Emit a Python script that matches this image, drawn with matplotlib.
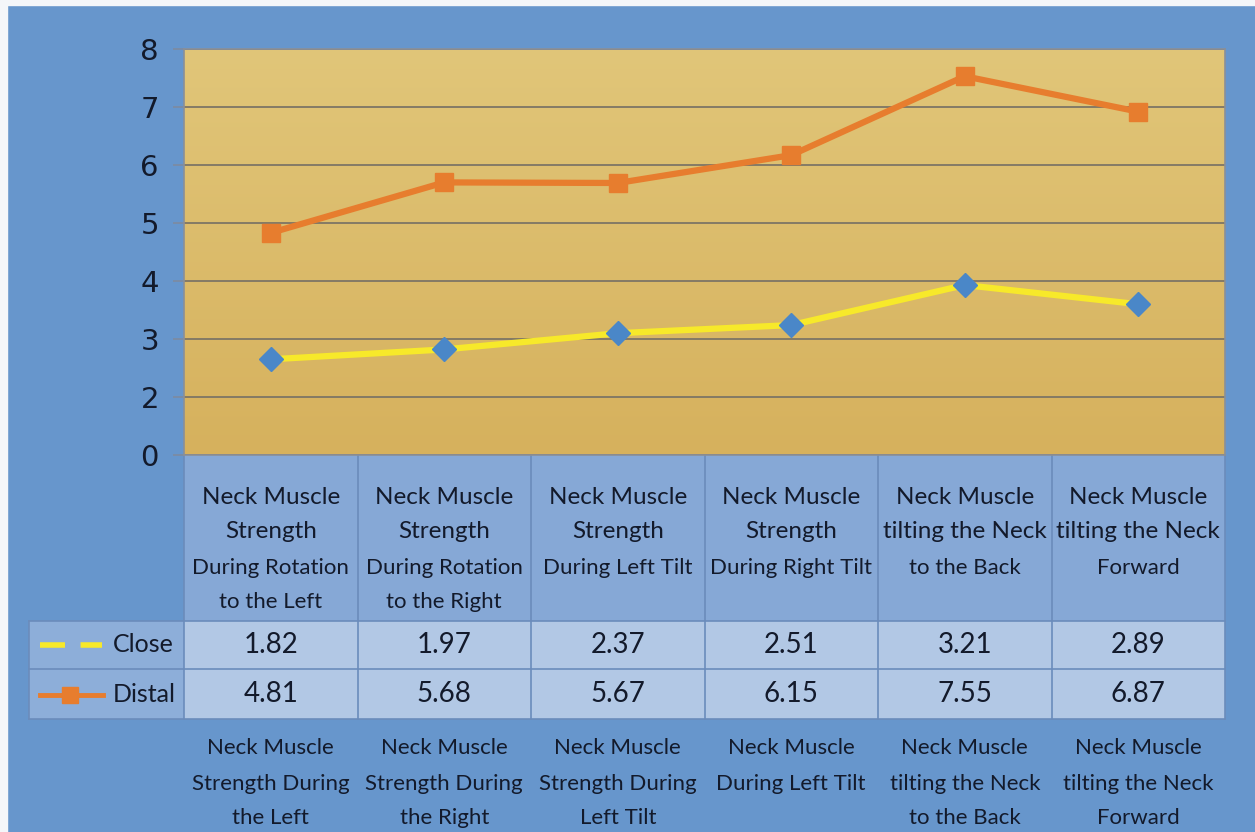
import numpy as np
import matplotlib
matplotlib.use('Agg')
import matplotlib.pyplot as plt
from matplotlib.patches import Rectangle
from matplotlib.lines import Line2D

# --- data ---
categories = [
    ["Neck Muscle", "Strength", "During Rotation", "to the Left"],
    ["Neck Muscle", "Strength", "During Rotation", "to the Right"],
    ["Neck Muscle", "Strength", "During Left Tilt"],
    ["Neck Muscle", "Strength", "During Right Tilt"],
    ["Neck Muscle", "tilting the Neck", "to the Back"],
    ["Neck Muscle", "tilting the Neck", "Forward"],
]
bottom_labels = [
    ["Neck Muscle", "Strength During", "the Left"],
    ["Neck Muscle", "Strength During", "the Right"],
    ["Neck Muscle", "Strength During", "Left Tilt"],
    ["Neck Muscle", "During Left Tilt"],
    ["Neck Muscle", "tilting the Neck", "to the Back"],
    ["Neck Muscle", "tilting the Neck", "Forward"],
]
series_names = ["Close", "Distal"]
close_table = [1.82, 1.97, 2.37, 2.51, 3.21, 2.89]
distal_table = [4.81, 5.68, 5.67, 6.15, 7.55, 6.87]
# positions where the points are actually drawn (axis starts at 1, labelled "0")
close_line = [2.65, 2.82, 3.10, 3.24, 3.93, 3.60]
distal_line = [4.83, 5.70, 5.69, 6.17, 7.53, 6.92]
ytick_pos = [1, 2, 3, 4, 5, 6, 7, 8]
ytick_labels = ["0", "2", "3", "4", "5", "6", "7", "8"]

W, H = 1255, 832
BLUE = '#6796cc'
TXT = '#131a2b'
ORANGE = '#e77d2e'
YELLOW = '#f7e92a'
DIAMOND = '#4a87c8'
FONT = 'Lato'

fig = plt.figure(figsize=(W / 100, H / 100), dpi=100, facecolor=BLUE)

# overlay in pixel coordinates for the data table and frame
canvas = fig.add_axes([0, 0, 1, 1], zorder=0)
canvas.set_xlim(0, W)
canvas.set_ylim(H, 0)
canvas.axis('off')
canvas.add_patch(Rectangle((0, 0), W, 5, color='#f4f6f9', zorder=0))
canvas.add_patch(Rectangle((0, 0), 7, H, color='#f4f6f9', zorder=0))

left, right, top, bot = 184, 1225, 49, 455
colw = (right - left) / len(categories)
hdr_bot = 621
row_h = [(621, 669), (669, 719)]
grid_col = '#6b8cbb'

# header cells
canvas.add_patch(Rectangle((left, bot), right - left, hdr_bot - bot,
                           facecolor='#86a8d6', edgecolor='none', zorder=1))
# data cells
canvas.add_patch(Rectangle((left, 621), right - left, 719 - 621,
                           facecolor='#b2c8e5', edgecolor='none', zorder=1))
# legend cells
canvas.add_patch(Rectangle((29, 621), left - 29, 719 - 621,
                           facecolor='#8daed9', edgecolor='none', zorder=1))

for i in range(len(categories) + 1):
    x = left + i * colw
    canvas.plot([x, x], [bot, 719], color=grid_col, lw=1.2, zorder=2)
for y in [621, 669, 719]:
    canvas.plot([29, right], [y, y], color=grid_col, lw=1.2, zorder=2)
canvas.plot([29, 29], [621, 719], color=grid_col, lw=1.2, zorder=2)

header_y = [497, 532, 568, 602]
bottom_y = [748, 784, 818]
for i, lines in enumerate(categories):
    cx = left + (i + 0.5) * colw
    for j, line in enumerate(lines):
        size = 17.5 if j < 2 else 16
        canvas.text(cx, header_y[j], line, ha='center', va='center',
                    fontsize=size, color=TXT, family=FONT, zorder=3)
    for j, line in enumerate(bottom_labels[i]):
        canvas.text(cx, bottom_y[j], line, ha='center', va='center',
                    fontsize=16, color=TXT, family=FONT, zorder=3)
    for r, vals in enumerate([close_table, distal_table]):
        cy = (row_h[r][0] + row_h[r][1]) / 2
        canvas.text(cx, cy, f"{vals[i]:.2f}", ha='center', va='center',
                    fontsize=20, color=TXT, family=FONT, zorder=3)

# legend keys inside the table
for r, name in enumerate(series_names):
    cy = (row_h[r][0] + row_h[r][1]) / 2
    canvas.text(113, cy, name, ha='left', va='center', fontsize=18,
                color=TXT, family=FONT, zorder=3)
canvas.add_line(Line2D([40, 102], [645, 645], color=YELLOW, lw=4,
                       dashes=(4.5, 2.8), solid_capstyle='butt', zorder=3))
canvas.add_line(Line2D([40, 103], [695, 695], color=ORANGE, lw=3.5, zorder=3))
canvas.add_line(Line2D([70], [695], color=ORANGE, marker='s', markersize=11,
                       lw=0, zorder=4))

# --- main plot ---
ax = fig.add_axes([left / W, 1 - bot / H, (right - left) / W, (bot - top) / H], zorder=2)
ax.set_facecolor('none')
x = np.arange(len(categories))
ax.set_xlim(-0.5, len(categories) - 0.5)
ax.set_ylim(1, 8)

grad = np.linspace(0, 1, 256).reshape(-1, 1)
cmap = matplotlib.colors.LinearSegmentedColormap.from_list('gold', ['#d6b15d', '#e1c679'])
ax.imshow(grad, aspect='auto', cmap=cmap, origin='lower',
          extent=[-0.5, len(categories) - 0.5, 1, 8], zorder=0)

ax.set_yticks(ytick_pos)
ax.set_yticklabels(ytick_labels, fontsize=21, color=TXT, family='DejaVu Sans')
ax.set_xticks([])
ax.grid(axis='y', color='#7d7565', lw=1.3, zorder=1)
ax.tick_params(axis='y', length=8, width=1.2, color='#7d8aa0', pad=10)
for s in ax.spines.values():
    s.set_color('#8a8f98')
    s.set_linewidth(1.2)

ax.plot(x, distal_line, color=ORANGE, lw=4.5, marker='s', markersize=13,
        zorder=3, clip_on=False)
ax.plot(x, close_line, color=YELLOW, lw=4.5, zorder=3, clip_on=False)
ax.plot(x, close_line, lw=0, marker='D', markersize=12, color=DIAMOND,
        zorder=4, clip_on=False)

fig.savefig('out.png', dpi=100, facecolor=BLUE)
